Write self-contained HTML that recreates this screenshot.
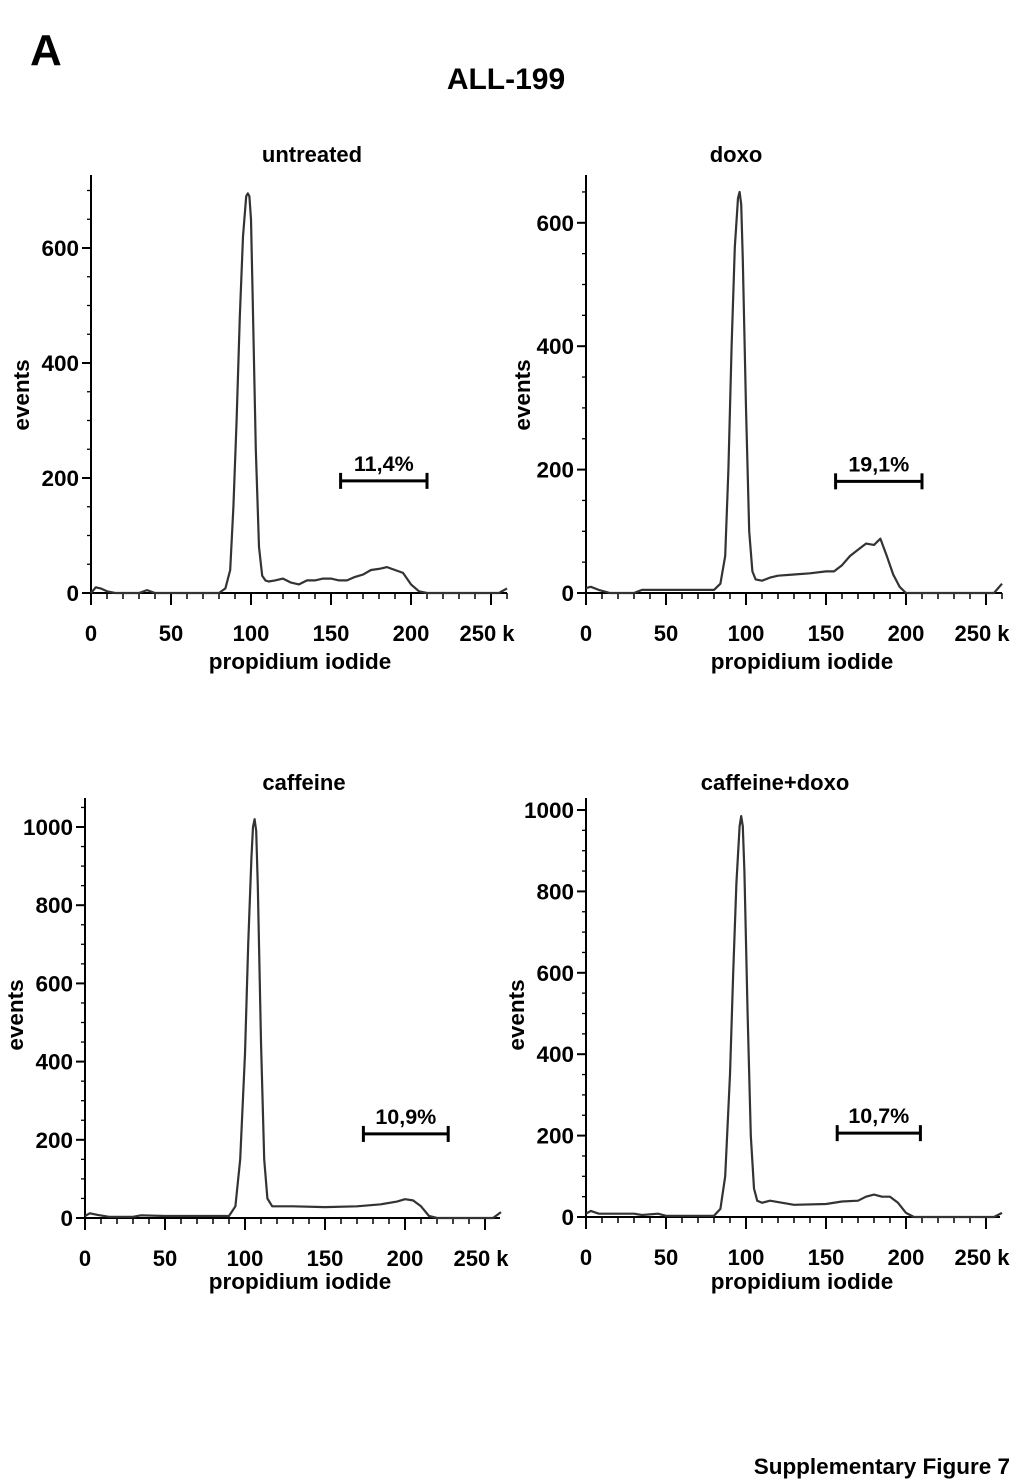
<!DOCTYPE html>
<html><head><meta charset="utf-8"><style>
html,body{margin:0;padding:0;background:#fff;}
svg text{font-family:"Liberation Sans",Arial,sans-serif;font-weight:bold;fill:#000;}
</style></head><body>
<svg id="fig" width="1024" height="1479" xmlns="http://www.w3.org/2000/svg">
<text x="30" y="65" font-size="44">A</text>
<text x="506" y="89" font-size="30" text-anchor="middle">ALL-199</text>
<text x="1010" y="1474" font-size="22.5" text-anchor="end">Supplementary Figure 7</text>
</svg>
<script>
// Data (x in k, y in events)
const xTicks = [0, 50, 100, 150, 200, 250];
const p1x = [0,3,6,10,15,30,35,40,80,84,87,89,91,93,95,97,98,99,100,101,103,105,107,109,111,115,120,125,130,135,140,145,150,155,160,165,170,175,180,185,190,195,200,205,210,255,260];
const p1y = [0,10,8,3,0,0,5,0,0,8,40,150,300,480,620,690,695,690,650,520,250,80,30,22,20,22,25,18,15,22,22,25,25,22,22,28,32,40,42,45,40,35,15,3,0,0,8];
const p2x = [0,3,8,15,30,35,70,80,84,87,89,91,93,95,96,97,98,100,102,104,106,110,115,120,130,140,150,155,160,165,170,175,180,184,188,192,196,200,255,260];
const p2y = [8,10,5,0,0,5,5,5,15,60,200,400,560,640,650,630,540,300,100,35,22,20,25,28,30,32,35,35,45,60,70,80,78,88,60,30,10,0,0,15];
const p3x = [0,3,8,15,30,35,50,90,94,97,100,102,104,105,106,107,108,110,112,114,117,130,150,170,185,195,200,205,210,215,220,255,260];
const p3y = [5,12,8,3,3,7,5,5,30,150,420,700,920,1000,1020,990,850,450,150,50,30,30,28,30,35,42,48,45,30,5,0,0,15];
const p4x = [0,3,8,30,35,45,50,80,84,87,90,92,94,96,97,98,99,101,103,105,107,110,115,130,150,160,170,175,180,185,190,195,200,205,255,260];
const p4y = [8,15,8,8,5,8,3,3,20,100,350,600,820,960,985,960,850,500,200,70,40,35,40,30,32,38,40,50,55,50,50,35,10,0,0,10];
const bar1 = [156, 210, 195], label1 = "11,4%";
const bar2 = [156, 210, 181], label2 = "19,1%";
const bar3 = [174, 227, 215], label3 = "10,9%";
const bar4 = [157, 209, 206], label4 = "10,7%";

const panels = [
 {name:'untreated', title:'untreated', ax:91, y0:593, ppy:0.575, top:175, xend:507, yTicks:[0,200,400,600], ymax:725, xs:p1x, ys:p1y, bar:bar1, label:label1, titleX:312, titleY:162, evX:29, evY:395, xlX:300, xlY:669},
 {name:'doxo', title:'doxo', ax:586, y0:593, ppy:0.617, top:175, xend:1002, yTicks:[0,200,400,600], ymax:675, xs:p2x, ys:p2y, bar:bar2, label:label2, titleX:736, titleY:162, evX:530, evY:395, xlX:802, xlY:669},
 {name:'caffeine', title:'caffeine', ax:85, y0:1218, ppy:0.391, top:798, xend:500, yTicks:[0,200,400,600,800,1000], ymax:1075, xs:p3x, ys:p3y, bar:bar3, label:label3, titleX:304, titleY:790, evX:23, evY:1015, xlX:300, xlY:1289},
 {name:'caffeine-doxo', title:'caffeine+doxo', ax:586, y0:1217, ppy:0.407, top:798, xend:1000, yTicks:[0,200,400,600,800,1000], ymax:1000, xs:p4x, ys:p4y, bar:bar4, label:label4, titleX:775, titleY:790, evX:524, evY:1015, xlX:802, xlY:1289}
];
const NS = 'http://www.w3.org/2000/svg';
const svg = document.getElementById('fig');
function mk(tag, attrs, parent){const e=document.createElementNS(NS,tag);for(const k in attrs)e.setAttribute(k,attrs[k]);(parent||svg).appendChild(e);return e;}
panels.forEach(p=>{
  const g = mk('g',{});
  
  
  const X = v => p.ax + v*1.6;
  const Y = v => p.y0 - v*p.ppy;
  const t = mk('text',{x:p.titleX,y:p.titleY,'font-size':22,'text-anchor':'middle'},g);t.textContent=p.title;
  
  
  const ya = mk('line',{x1:p.ax,y1:p.top,x2:p.ax,y2:p.y0+12,stroke:'#000','stroke-width':2},g);
  
  
  const xa = mk('line',{x1:p.ax-9,y1:p.y0,x2:p.xend,y2:p.y0,stroke:'#000','stroke-width':2},g);
  
  
  for(let v=0; v<=p.ymax; v+=50){
    const major = p.yTicks.includes(v);
    mk('line',{x1:p.ax-(major?9:4),y1:Y(v),x2:p.ax,y2:Y(v),stroke:'#000','stroke-width':major?2:1.3},g);
  }
  p.yTicks.forEach(v=>{
    const tl = mk('text',{x:p.ax-12,y:Y(v)+8,'font-size':22.5,'text-anchor':'end'},g);tl.textContent=v;
    
    
  });
  for(let v=0; X(v)<=p.xend; v+=10){
    const major = v%50===0;
    mk('line',{x1:X(v),y1:p.y0,x2:X(v),y2:p.y0+(major?12:6),stroke:'#000','stroke-width':major?2:1.5},g);
  }
  xTicks.forEach(v=>{
    const tl = mk('text',{x:X(v)-(v===250?4:0),y:p.y0+48,'font-size':22,'text-anchor':'middle'},g);
    tl.textContent = v===250 ? '250 k' : v;
    
    
  });
  const xl = mk('text',{x:p.xlX,y:p.xlY,'font-size':22.5,'text-anchor':'middle'},g);xl.textContent='propidium iodide';
  
  
  const yl = mk('text',{x:0,y:0,'font-size':22.5,'text-anchor':'middle',transform:`translate(${p.evX},${p.evY}) rotate(-90)`},g);yl.textContent='events';
  
  
  let d='';
  p.xs.forEach((x,i)=>{d+=(i?'L':'M')+X(x).toFixed(1)+','+Y(p.ys[i]).toFixed(1);});
  const path = mk('path',{d:d,fill:'none',stroke:'#333','stroke-width':2.2,'stroke-linejoin':'round'},g);
  
  
  const bg = mk('g',{},g);
  
  
  const [a,b,h]=p.bar;
  mk('line',{x1:X(a),y1:Y(h),x2:X(b),y2:Y(h),stroke:'#000','stroke-width':3},bg);
  mk('line',{x1:X(a),y1:Y(h)-8,x2:X(a),y2:Y(h)+8,stroke:'#000','stroke-width':3},bg);
  mk('line',{x1:X(b),y1:Y(h)-8,x2:X(b),y2:Y(h)+8,stroke:'#000','stroke-width':3},bg);
  const bl = mk('text',{x:(X(a)+X(b))/2,y:Y(h)-10,'font-size':21.5,'text-anchor':'middle'},bg);bl.textContent=p.label;
  
  
});
</script>
</body></html>
